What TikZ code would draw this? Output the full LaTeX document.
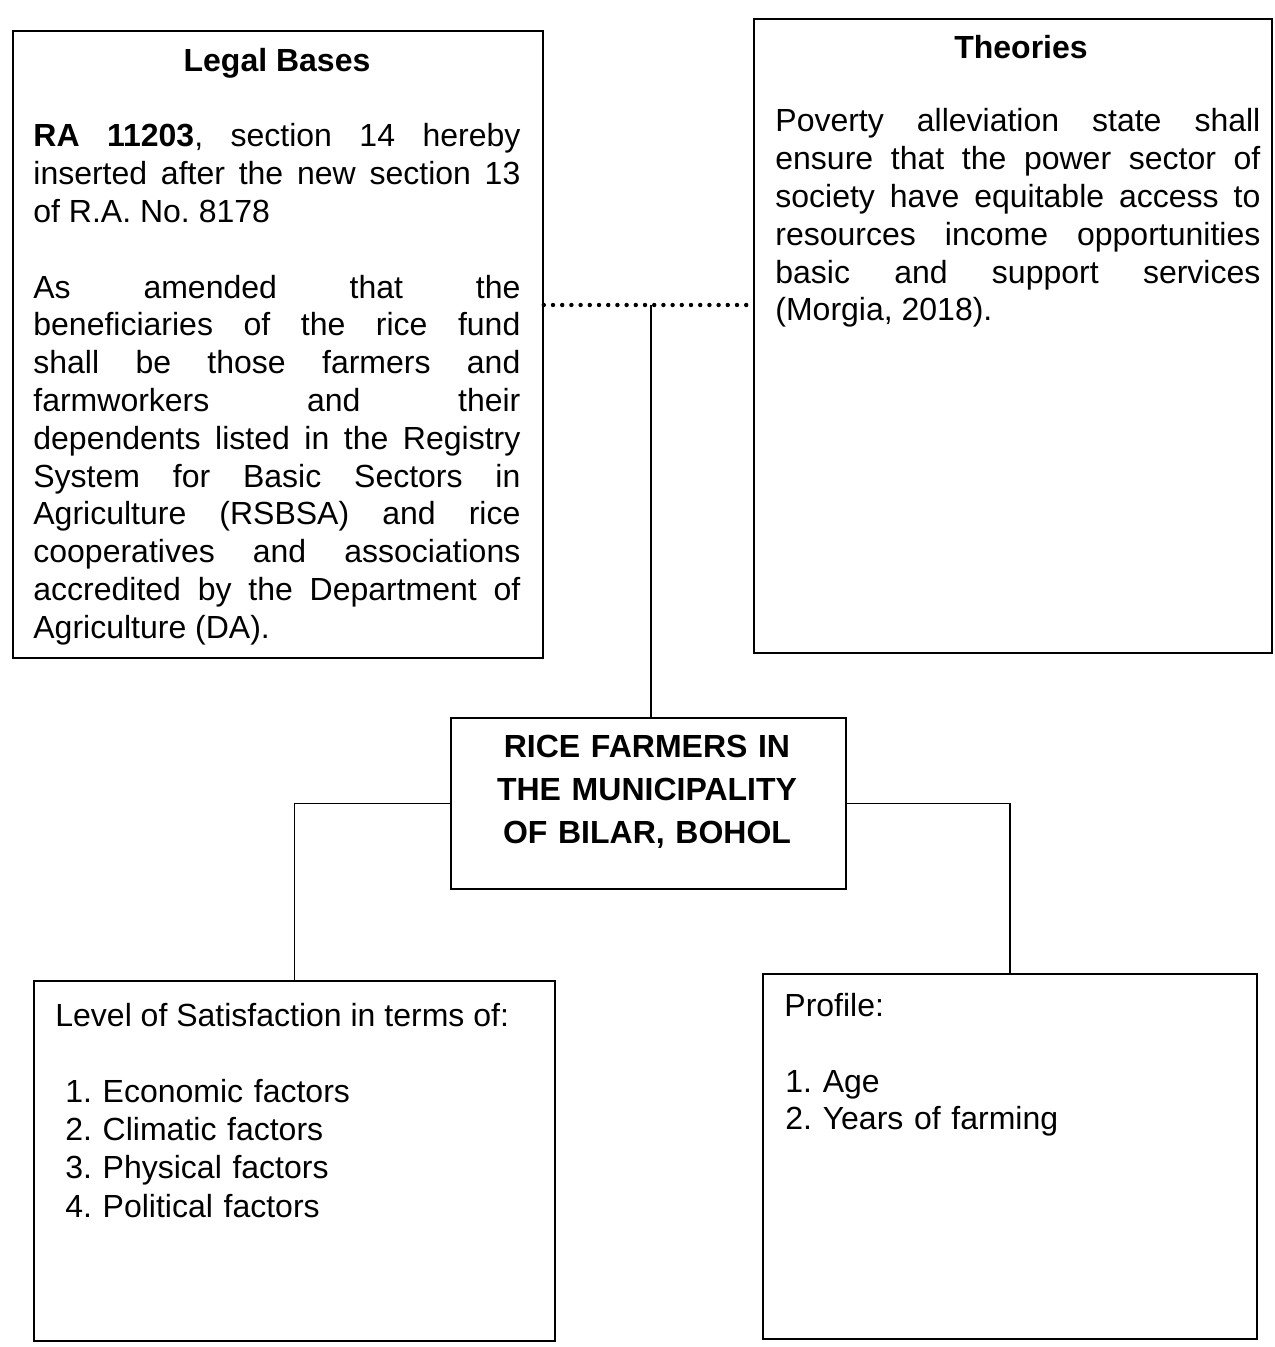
\documentclass[tikz,border=0pt]{standalone}
\usepackage{fontspec}
\setmainfont{Liberation Sans}
\begin{document}
\frenchspacing
\begin{tikzpicture}[x=0.5pt,y=-0.5pt,
  box/.style={draw,line width=0.9pt,inner sep=0pt,anchor=north west},
  conn/.style={line width=0.9pt},
  dotline/.style={line width=2.2pt,dash pattern=on 0pt off 4.6pt,line cap=round},
  txt/.style={inner sep=0pt,font={\fontsize{16pt}{18.9pt}\selectfont\frenchspacing\tolerance=10000\hyphenpenalty=10000}},
  ttl/.style={inner sep=0pt,font={\fontsize{16pt}{18.9pt}\selectfont\bfseries},anchor=base},
  just/.style={txt,align=justify,anchor=base west}]
\path[use as bounding box] (0,0) rectangle (1274,1347);
% boxes
\node[box,minimum width=265pt,minimum height=313.5pt] (legal) at (12,30) {};
\node[box,minimum width=259pt,minimum height=317pt] (theories) at (753,18) {};
\node[box,minimum width=197.5pt,minimum height=85.5pt] (center) at (450,717) {};
\node[box,minimum width=260.5pt,minimum height=180pt] (level) at (33,980) {};
\node[box,minimum width=247pt,minimum height=182.5pt] (profile) at (762,973) {};
% texts
\node[ttl] (legalT) at (277,72) {Legal Bases};
\node[just,text width=243.5pt] (legalB) at (33,147) {\parindent=0pt
\textbf{RA 11203}, section 14 hereby\linebreak
inserted after the new section 13\linebreak
of R.A. No. 8178\par\vspace{18.9pt}
As amended that the\linebreak
beneficiaries of the rice fund\linebreak
shall be those farmers and\linebreak
farmworkers and their\linebreak
dependents listed in the Registry\linebreak
System for Basic Sectors in\linebreak
Agriculture (RSBSA) and rice\linebreak
cooperatives and associations\linebreak
accredited by the Department of\linebreak
Agriculture (DA).};
\node[ttl] (theoT) at (1021,59) {Theories};
\node[just,text width=242.5pt] (theoB) at (775,132) {\parindent=0pt
Poverty alleviation state shall\linebreak
ensure that the power sector of\linebreak
society have equitable access to\linebreak
resources income opportunities\linebreak
basic and support services\linebreak
(Morgia, 2018).};
\node[ttl,font={\fontsize{16pt}{21.5pt}\selectfont\bfseries},align=center,text width=190pt] (centerT) at (647,757)
  {RICE FARMERS IN\\THE MUNICIPALITY\\OF BILAR, BOHOL};
\node[txt,anchor=base west] (levelH) at (55,1026) {Level of Satisfaction in terms of:};
\node[txt,anchor=base west,align=left,text width=200pt,font={\fontsize{16pt}{19.2pt}\selectfont\frenchspacing}] (levelL) at (65,1102)
  {1. Economic factors\\2. Climatic factors\\3. Physical factors\\4. Political factors};
\node[txt,anchor=base west] (profH) at (784,1016) {Profile:};
\node[txt,anchor=base west,align=left,text width=200pt,font={\fontsize{16pt}{18.5pt}\selectfont\frenchspacing}] (profL) at (785,1092)
  {1. Age\\2. Years of farming};
% connectors
\coordinate (j) at (651,305);
\draw[dotline] (legal.east |- j) -- (theories.west |- j);
\draw[conn] (j) -- (j |- center.north);
\draw[conn] (center.west) -| (level.north);
\draw[conn] (center.east) -| (profile.north);
\end{tikzpicture}
\end{document}
